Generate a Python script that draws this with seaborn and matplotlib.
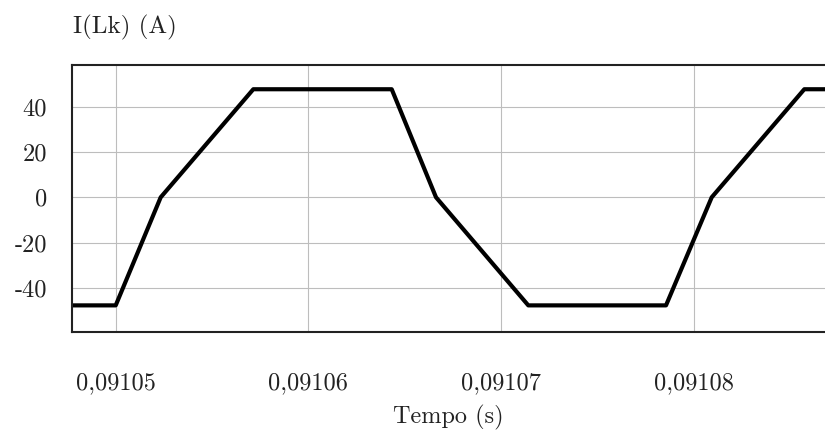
import matplotlib
matplotlib.use("Agg")
import matplotlib.pyplot as plt
import seaborn as sns
import pandas as pd

# Data
tempo = [0.091047732, 0.091050000, 0.091052335, 0.091057141, 0.091064323,
         0.091066622, 0.091071411, 0.091078557, 0.091080929, 0.091085734, 0.091086808]
corrente = [-47.7, -47.7, 0.0, 47.7, 47.7, 0.0, -47.7, -47.7, 0.0, 47.7, 47.7]

x_ticks = [0.09105, 0.09106, 0.09107, 0.09108]
x_tick_labels = ["0,09105", "0,09106", "0,09107", "0,09108"]
y_ticks = [40, 20, 0, -20, -40]
y_tick_labels = ["40", "20", "0", "-20", "-40"]

sns.set_theme(style="white")
plt.rcParams["font.family"] = ["cmr10", "DejaVu Serif"]
plt.rcParams["axes.unicode_minus"] = False
plt.rcParams["axes.formatter.use_mathtext"] = True

df = pd.DataFrame({"Tempo": tempo, "I": corrente})

fig = plt.figure(figsize=(8.25, 4.34), dpi=100)
ax = fig.add_axes([72 / 825, 1 - 332 / 434, 1 - 72 / 825, (332 - 65) / 434])

sns.lineplot(data=df, x="Tempo", y="I", ax=ax, color="black", linewidth=3.0,
             sort=False, estimator=None)

ax.set_xlim(0.091047732, 0.091086808)
ax.set_ylim(-59.45, 58.4)
ax.set_xticks(x_ticks)
ax.set_xticklabels(x_tick_labels, fontsize=17.5)
ax.set_yticks(y_ticks)
ax.set_yticklabels(y_tick_labels, fontsize=17.5)
ax.tick_params(axis="x", length=0, pad=29, colors="#222222")
ax.tick_params(axis="y", length=0, pad=18, colors="#222222")
ax.grid(True, color="#bdbdbd", linewidth=0.8)
ax.set_axisbelow(True)
ax.set_xlabel("")
ax.set_ylabel("")

for side in ["left", "top", "bottom"]:
    ax.spines[side].set_visible(True)
    ax.spines[side].set_color("#222222")
    ax.spines[side].set_linewidth(1.5)
ax.spines["right"].set_visible(False)

fig.text(73 / 825, 1 - 27 / 434, "I(Lk) (A)", fontsize=18, ha="left", va="center",
         color="#222222")
fig.text(448 / 825, 1 - 417 / 434, "Tempo (s)", fontsize=17.5, ha="center", va="center",
         color="#222222")

fig.savefig("out.png", dpi=100)
